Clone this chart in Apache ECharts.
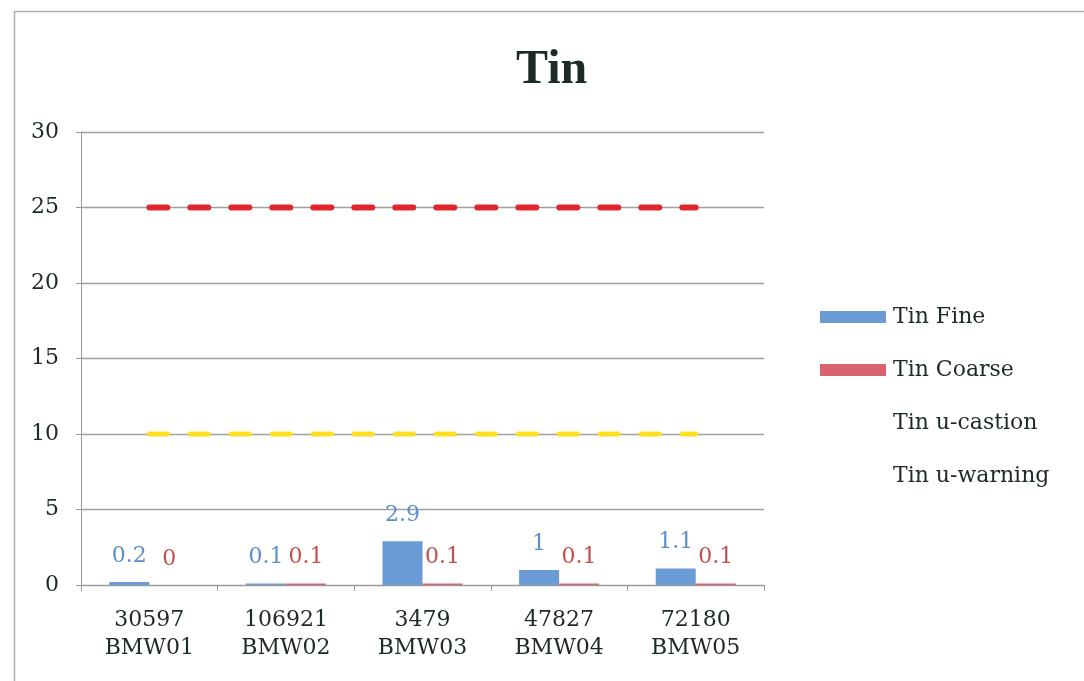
<!DOCTYPE html>
<html>
<head>
<meta charset="utf-8">
<script src="https://cdn.jsdelivr.net/npm/echarts@6/dist/echarts.min.js"></script>
<style>
html,body{margin:0;padding:0;background:#fff;}
#main{width:1084px;height:681px;}
</style>
</head>
<body>
<div id="main"></div>
<script>
var categories = ['30597\nBMW01', '106921\nBMW02', '3479\nBMW03', '47827\nBMW04', '72180\nBMW05'];
var tinFine = [0.2, 0.1, 2.9, 1, 1.1];
var tinCoarse = [0, 0.1, 0.1, 0.1, 0.1];
var tinCaution = [25, 25, 25, 25, 25];
var tinWarning = [10, 10, 10, 10, 10];
var yTicks = [0, 5, 10, 15, 20, 25, 30];

var FONT = 'DejaVu Serif';
var chart = echarts.init(document.getElementById('main'), null, {renderer: 'canvas'});
chart.setOption({
  animation: false,
  backgroundColor: '#fff',
  graphic: [{
    type: 'rect', left: 12, top: 9,
    shape: {width: 1100, height: 700},
    style: {fill: 'none', stroke: '#b0b0b0', lineWidth: 1.5}
  }],
  title: {
    text: 'Tin', left: 516, top: 47, padding: 0,
    textStyle: {fontFamily: 'Liberation Serif', fontWeight: 'bold', fontSize: 48, color: '#1e2a28'}
  },
  grid: {left: 81, right: 320, top: 132, bottom: 96, containLabel: false},
  legend: {
    orient: 'vertical', left: 820, top: 306, itemGap: 31, padding: 0,
    itemWidth: 66, itemHeight: 12,
    textStyle: {fontFamily: FONT, fontSize: 22, color: '#1e2a28', padding: [0, 0, 0, 2]},
    data: [
      {name: 'Tin Fine', icon: 'rect'},
      {name: 'Tin Coarse', icon: 'rect'},
      {name: 'Tin u-castion', icon: 'none'},
      {name: 'Tin u-warning', icon: 'none'}
    ]
  },
  xAxis: {
    type: 'category', data: categories,
    axisLine: {lineStyle: {color: '#999', width: 1}},
    axisTick: {show: true, length: 6, lineStyle: {color: '#999'}},
    axisLabel: {fontFamily: FONT, fontSize: 22, color: '#1e2a28', lineHeight: 28, margin: 21, interval: 0}
  },
  yAxis: {
    type: 'value', min: yTicks[0], max: yTicks[yTicks.length - 1], interval: 5,
    axisLine: {show: true, lineStyle: {color: '#999', width: 1}},
    axisTick: {show: true, length: 5, lineStyle: {color: '#999'}},
    splitLine: {lineStyle: {color: '#a0a0a0', width: 1.3}},
    axisLabel: {fontFamily: FONT, fontSize: 22, color: '#1e2a28', margin: 22}
  },
  series: [
    {
      name: 'Tin Fine', type: 'bar', data: tinFine, barWidth: 40, barGap: '0%',
      itemStyle: {color: '#6a9bd4'},
      label: {show: true, position: 'top', distance: 15, fontFamily: FONT, fontSize: 22, color: '#5b8fc8'}
    },
    {
      name: 'Tin Coarse', type: 'bar', data: tinCoarse, barWidth: 40,
      itemStyle: {color: '#d9646f'},
      label: {show: true, position: 'top', distance: 15, fontFamily: FONT, fontSize: 22, color: '#c0504d'}
    },
    {
      name: 'Tin u-castion', type: 'line', data: tinCaution, symbol: 'none',
      lineStyle: {color: '#e0262b', width: 6, type: [18, 23], cap: 'round'},
      itemStyle: {color: '#e0262b'}
    },
    {
      name: 'Tin u-warning', type: 'line', data: tinWarning, symbol: 'none',
      lineStyle: {color: '#ffe020', width: 5, type: [18, 23], cap: 'round'},
      itemStyle: {color: '#ffe020'}
    }
  ]
});
</script>
</body>
</html>
